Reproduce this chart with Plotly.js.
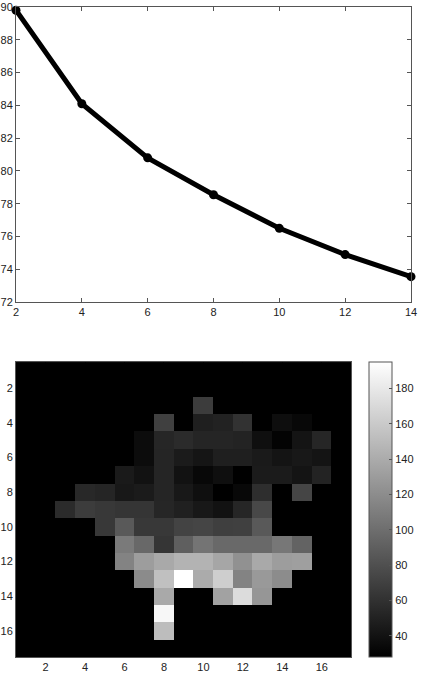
<!DOCTYPE html>
<html lang="en">
<head>
  <meta charset="UTF-8">
  <title>Line and grayscale map</title>
  <script src="https://cdn.plot.ly/plotly-3.0.1.min.js"></script>
  <style>
    body { margin: 0; background: #ffffff; }
    #chart { width: 425px; height: 674px; }
  </style>
</head>
<body>
  <div id="chart"></div>
  <script>
    // top plot: line with markers
    const lineX = [2, 4, 6, 8, 10, 12, 14];
    const lineY = [89.8, 84.1, 80.8, 78.55, 76.5, 74.9, 73.55];

    // bottom plot: 17x17 grayscale map, one array per row (row 1 at top)
    const row01 = [28,28,28,28,28,28,28,28,28,28,28,28,28,28,28,28,28];
    const row02 = [28,28,28,28,28,28,28,28,28,28,28,28,28,28,28,28,28];
    const row03 = [28,28,28,28,28,28,28,28,28,67,28,28,28,28,28,28,28];
    const row04 = [28,28,28,28,28,28,28,70,28,48,50,61,28,37,33,28,28];
    const row05 = [28,28,28,28,28,28,36,53,56,52,52,51,38,30,41,53,28];
    const row06 = [28,28,28,28,28,28,36,52,46,42,48,48,45,41,44,41,28];
    const row07 = [28,28,28,28,28,45,40,52,40,33,38,28,46,46,41,51,28];
    const row08 = [28,28,28,54,52,44,46,52,44,38,28,33,58,28,73,28,28];
    const row09 = [28,28,56,67,65,63,63,53,49,44,40,53,75,28,28,28,28];
    const row10 = [28,28,28,28,65,86,65,65,72,73,69,70,86,28,28,28,28];
    const row11 = [28,28,28,28,28,108,96,63,90,104,97,97,97,106,93,28,28];
    const row12 = [28,28,28,28,28,114,131,139,145,145,137,123,139,131,132,28,28];
    const row13 = [28,28,28,28,28,28,119,154,195,140,163,114,128,120,28,28,28];
    const row14 = [28,28,28,28,28,28,28,139,28,28,134,172,126,28,28,28,28];
    const row15 = [28,28,28,28,28,28,28,190,28,28,28,28,28,28,28,28,28];
    const row16 = [28,28,28,28,28,28,28,152,28,28,28,28,28,28,28,28,28];
    const row17 = [28,28,28,28,28,28,28,28,28,28,28,28,28,28,28,28,28];

    const mapCols = [1,2,3,4,5,6,7,8,9,10,11,12,13,14,15,16,17];
    const mapRows = [1,2,3,4,5,6,7,8,9,10,11,12,13,14,15,16,17];
    const lineTicks = [2, 4, 6, 8, 10, 12, 14];
    const lineYTicks = [72, 74, 76, 78, 80, 82, 84, 86, 88, 90];
    const mapTicks = [2, 4, 6, 8, 10, 12, 14, 16];
    const barTicks = [40, 60, 80, 100, 120, 140, 160, 180];

    const mapZ = [row01, row02, row03, row04, row05, row06, row07, row08, row09,
                  row10, row11, row12, row13, row14, row15, row16, row17];

    const font = { family: 'Liberation Sans, Arial, sans-serif', size: 11, color: '#222' };

    const axisBase = {
      showgrid: false,
      zeroline: false,
      showline: true,
      mirror: 'allticks',
      linecolor: '#555',
      linewidth: 1,
      ticks: 'inside',
      ticklen: 4,
      tickcolor: '#555',
      tickfont: font
    };

    const data = [
      {
        x: lineX, y: lineY,
        type: 'scatter', mode: 'lines+markers',
        line: { color: '#000', width: 5 },
        marker: { color: '#000', size: 9 },
        cliponaxis: false,
        xaxis: 'x', yaxis: 'y',
        hoverinfo: 'skip'
      },
      {
        z: mapZ, x: mapCols, y: mapRows,
        type: 'heatmap',
        colorscale: [[0, '#000000'], [1, '#ffffff']],
        xaxis: 'x2', yaxis: 'y2',
        colorbar: {
          x: 0.894, xanchor: 'left', xpad: 0,
          y: 0, yanchor: 'bottom', ypad: 0,
          len: 0.4538, lenmode: 'fraction',
          thickness: 23, thicknessmode: 'pixels',
          outlinewidth: 1, outlinecolor: '#555',
          tickmode: 'array', tickvals: barTicks,
          ticks: 'inside', ticklen: 3, tickcolor: '#555',
          tickfont: font
        }
      }
    ];

    const layout = {
      width: 425,
      height: 674,
      margin: { l: 16, r: 12, t: 7, b: 17 },
      paper_bgcolor: '#ffffff',
      plot_bgcolor: '#ffffff',
      showlegend: false,
      font: font,
      xaxis: Object.assign({}, axisBase, {
        domain: [0, 1], anchor: 'y',
        range: [2, 14], tickmode: 'array', tickvals: lineTicks
      }),
      yaxis: Object.assign({}, axisBase, {
        domain: [0.546, 1], anchor: 'x',
        range: [72, 90], tickmode: 'array', tickvals: lineYTicks
      }),
      xaxis2: Object.assign({}, axisBase, {
        domain: [0, 0.849], anchor: 'y2',
        range: [0.5, 17.5], tickmode: 'array', tickvals: mapTicks,
        ticklen: 3, tickcolor: '#000'
      }),
      yaxis2: Object.assign({}, axisBase, {
        domain: [0, 0.4538], anchor: 'x2',
        range: [17.5, 0.5], tickmode: 'array', tickvals: mapTicks,
        ticklen: 3, tickcolor: '#000'
      })
    };

    Plotly.newPlot('chart', data, layout, { displayModeBar: false, staticPlot: true });
  </script>
</body>
</html>
